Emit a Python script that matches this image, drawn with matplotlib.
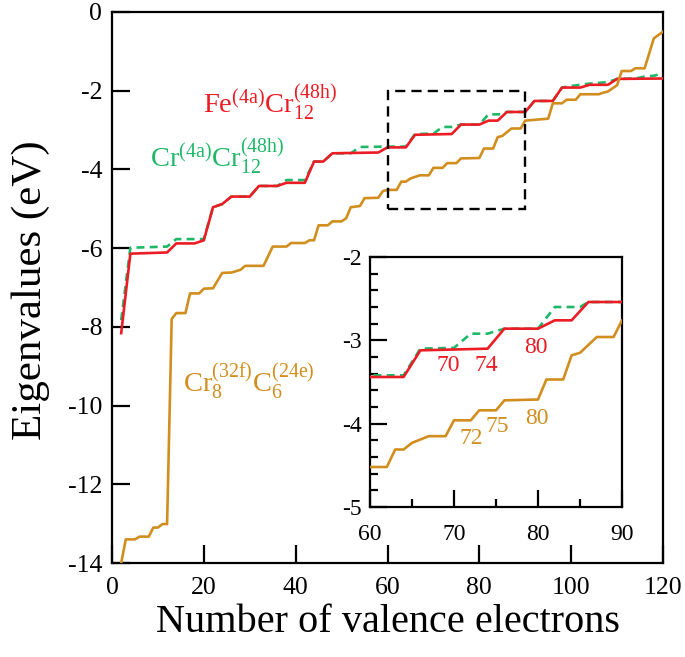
import matplotlib
matplotlib.use("Agg")
import matplotlib.pyplot as plt
from matplotlib.patches import Rectangle
from matplotlib.ticker import MultipleLocator

plt.rcParams['font.family'] = ['Liberation Serif', 'DejaVu Serif']
plt.rcParams['mathtext.fontset'] = 'custom'
plt.rcParams['mathtext.rm'] = 'Liberation Serif'
plt.rcParams['mathtext.it'] = 'Liberation Serif:italic'
plt.rcParams['axes.unicode_minus'] = False

# ---- data (number of valence electrons, eigenvalue in eV) ----
fe_x = [2, 4, 12, 14, 18, 20, 22, 24, 26, 30, 32, 36, 38, 42, 44, 46, 48, 58, 60, 64,
        66, 74, 76, 80, 82, 84, 86, 90, 92, 96, 98, 102, 104, 108, 110, 120]
fe_y = [-8.16, -6.14, -6.11, -5.88, -5.88, -5.80, -4.96, -4.88, -4.69, -4.69, -4.42, -4.42,
        -4.34, -4.34, -3.80, -3.80, -3.59, -3.57, -3.44, -3.44, -3.12, -3.10, -2.86, -2.86,
        -2.76, -2.76, -2.54, -2.54, -2.26, -2.26, -1.92, -1.92, -1.85, -1.85, -1.70, -1.69]

cr_x = [2, 4, 12, 14, 20, 22, 24, 26, 30, 32, 36, 38, 42, 44, 46, 48, 52, 54, 60, 64,
        66, 70, 72, 74, 76, 80, 82, 85, 86, 90, 92, 96, 98, 100, 104, 108, 110, 114,
        116, 118, 120]
cr_y = [-7.83, -5.99, -5.96, -5.77, -5.77, -4.96, -4.88, -4.69, -4.69, -4.42, -4.42,
        -4.27, -4.27, -3.80, -3.80, -3.59, -3.59, -3.43, -3.42, -3.42, -3.10, -3.09,
        -2.92, -2.92, -2.86, -2.86, -2.60, -2.60, -2.54, -2.54, -2.26, -2.26, -1.92,
        -1.88, -1.82, -1.78, -1.70, -1.69, -1.64, -1.62, -1.56]

cc_x = [2, 3, 5, 6, 8, 9, 10, 11, 12, 13, 14, 16, 17, 19, 20, 22, 24, 26, 28, 29, 33,
        35, 38, 39, 42, 43, 44, 45, 47, 48, 50, 51, 52, 54, 55, 58, 59, 60, 62, 63, 64,
        65, 67, 69, 70, 72, 73, 75, 76, 80, 81, 83, 84, 85, 87, 89, 90, 95, 96, 98, 99,
        101, 102, 106, 107, 108, 110, 111, 113, 114, 116, 118, 120]
cc_y = [-14.0, -13.40, -13.40, -13.33, -13.33, -13.10, -13.10, -13.01, -13.01, -7.80,
        -7.65, -7.65, -7.15, -7.15, -7.03, -7.02, -6.63, -6.62, -6.55, -6.45, -6.45,
        -5.96, -5.96, -5.87, -5.87, -5.80, -5.80, -5.42, -5.42, -5.32, -5.32, -5.24,
        -4.96, -4.93, -4.73, -4.72, -4.55, -4.52, -4.52, -4.31, -4.31, -4.23, -4.15,
        -4.15, -3.96, -3.96, -3.84, -3.84, -3.72, -3.71, -3.47, -3.47, -3.18, -3.15,
        -2.96, -2.96, -2.76, -2.71, -2.32, -2.32, -2.23, -2.23, -2.09, -2.09, -2.05,
        -2.02, -1.86, -1.50, -1.50, -1.43, -1.43, -0.67, -0.50]

inset_red_labels = [(69.3, -3.30, '70'), (73.8, -3.30, '74'), (79.8, -3.09, '80')]
inset_org_labels = [(72.1, -4.18, '72'), (75.2, -4.04, '75'), (79.9, -3.94, '80')]

RED = '#ec1c24'
GREEN = '#1fb868'
ORANGE = '#d18e1f'

fig = plt.figure(figsize=(6.85, 6.57), dpi=100)
ax = fig.add_axes([112/685, 94/657, 551/685, 551/657])

def draw(a, lw=1.9):
    a.plot(cr_x, cr_y, color=GREEN, lw=lw, ls=(0, (3, 2)), zorder=2)
    a.plot(fe_x, fe_y, color=RED, lw=lw, zorder=3)
    a.plot(cc_x, cc_y, color=ORANGE, lw=lw, zorder=3)

draw(ax)
ax.set_xlim(0, 120)
ax.set_ylim(-14, 0)
ax.set_xticks(range(0, 121, 20))
ax.set_yticks(range(-14, 1, 2))
ax.tick_params(direction='in', length=13, width=1.6, labelsize=18.5, top=False, right=False)
ax.tick_params(axis='x', pad=10)
ax.tick_params(axis='y', pad=7)
for s in ax.spines.values():
    s.set_linewidth(1.6)

ax.add_patch(Rectangle((60, -5), 30, 3, fill=False, ec='black', lw=1.7,
                       ls=(0, (4.3, 2.6)), zorder=4))

ax.text(19.8, -2.57, r'Fe$^{\mathrm{(4a)}}$Cr$_{12}^{\mathrm{(48h)}}$', color=RED,
        fontsize=20.5, va='baseline', ha='left')
ax.text(8.3, -3.94, r'Cr$^{\mathrm{(4a)}}$Cr$_{12}^{\mathrm{(48h)}}$', color=GREEN,
        fontsize=20.5, va='baseline', ha='left')
ax.text(15.5, -9.68, r'Cr$_{8}^{\mathrm{(32f)}}$C$_{6}^{\mathrm{(24e)}}$', color=ORANGE,
        fontsize=20.5, va='baseline', ha='left')

fig.text(31/685, 1 - 290/657, 'Eigenvalues (eV)', rotation=90, fontsize=31,
         ha='center', va='center')
fig.text(388/685, 1 - 622/657, 'Number of valence electrons', fontsize=29,
         ha='center', va='center')

# inset
ins = fig.add_axes([370/685, 150/657, 252/685, 250/657])
draw(ins)
ins.set_xlim(60, 90)
ins.set_ylim(-5, -2)
ins.xaxis.set_major_locator(MultipleLocator(10))
ins.xaxis.set_minor_locator(MultipleLocator(5))
ins.yaxis.set_major_locator(MultipleLocator(1))
ins.yaxis.set_minor_locator(MultipleLocator(0.2))
ins.tick_params(which='major', direction='in', length=12, width=1.6, labelsize=17,
                top=False, right=False)
ins.tick_params(which='minor', direction='in', length=6, width=1.6, top=False, right=False)
ins.tick_params(axis='x', which='major', pad=12)
ins.tick_params(axis='y', which='major', pad=6)
for s in ins.spines.values():
    s.set_linewidth(1.6)
for x, y, t in inset_red_labels:
    ins.text(x, y, t, color=RED, fontsize=17, ha='center', va='center')
for x, y, t in inset_org_labels:
    ins.text(x, y, t, color=ORANGE, fontsize=17, ha='center', va='center')

fig.savefig('out.png', dpi=100)
